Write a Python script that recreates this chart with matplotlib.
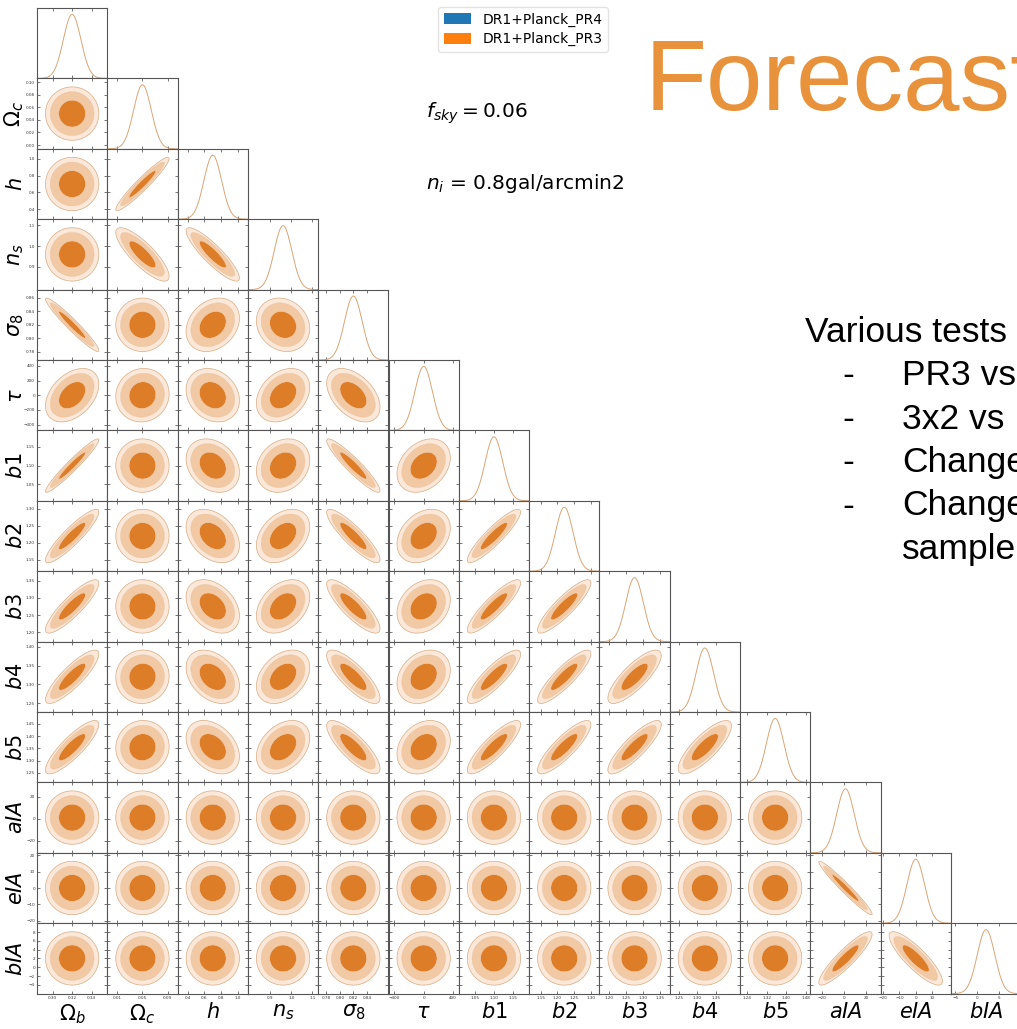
import numpy as np
import matplotlib
matplotlib.use("Agg")
import matplotlib.pyplot as plt
from matplotlib.patches import Patch

# ---- parameters of the Fisher forecast ----
labels = [r"$\Omega_b$", r"$\Omega_c$", r"$h$", r"$n_s$", r"$\sigma_8$", r"$\tau$",
          r"$b1$", r"$b2$", r"$b3$", r"$b4$", r"$b5$", r"$aIA$", r"$eIA$", r"$bIA$"]
means = [0.32, 0.05, 0.70, 0.96, 0.82, 0.0, 1.10, 1.22, 1.275, 1.32, 1.355, 1.0, 0.0, 2.0]
sigmas = [0.009, 0.014, 0.105, 0.042, 0.013, 120.0, 0.0235, 0.026, 0.0255, 0.0235,
          0.036, 8.0, 5.4, 2.0]

# lower triangle of the correlation matrix (row i, columns 0..i-1)
corr_rows = [
    [],
    [0.0],
    [0.0, 0.95],
    [0.0, -0.82, -0.88],
    [-0.96, 0.0, 0.25, -0.15],
    [0.40, 0.05, -0.20, 0.30, -0.45],
    [0.96, 0.0, -0.25, 0.20, -0.93, 0.30],
    [0.90, 0.0, -0.35, 0.35, -0.88, 0.30, 0.90],
    [0.87, 0.0, -0.35, 0.35, -0.83, 0.25, 0.88, 0.88],
    [0.85, 0.03, -0.35, 0.35, -0.80, 0.25, 0.85, 0.87, 0.80],
    [0.85, 0.03, -0.35, 0.35, -0.80, 0.25, 0.85, 0.85, 0.85, 0.80],
    [0.0, 0.0, 0.0, 0.0, 0.0, 0.0, 0.0, 0.0, 0.0, 0.0, 0.0],
    [0.0, 0.0, 0.0, 0.0, 0.0, 0.0, 0.0, 0.0, 0.0, 0.0, 0.0, -0.97],
    [0.0, 0.0, 0.0, 0.0, 0.0, 0.0, 0.0, 0.0, 0.0, 0.0, 0.0, 0.90, -0.85],
]

# tick positions used on the x and y axes of each parameter
xticks = [[0.30, 0.32, 0.34], [0.01, 0.05, 0.09], [0.4, 0.6, 0.8, 1.0], [0.9, 1.0, 1.1],
          [0.78, 0.80, 0.82, 0.84], [-400, 0, 400], [1.05, 1.10, 1.15],
          [1.15, 1.20, 1.25, 1.30], [1.20, 1.25, 1.30, 1.35], [1.25, 1.30, 1.35],
          [1.24, 1.32, 1.40, 1.48], [-20, 0, 20], [-20, -10, 0, 10], [-5, 0, 5]]
yticks = [[], [0.00, 0.02, 0.04, 0.06, 0.08, 0.10], [0.4, 0.6, 0.8, 1.0], [0.9, 1.0, 1.1],
          [0.78, 0.80, 0.82, 0.84, 0.86], [-400, -200, 0, 200, 400], [1.05, 1.10, 1.15],
          [1.15, 1.20, 1.25, 1.30], [1.20, 1.25, 1.30, 1.35], [1.25, 1.30, 1.35, 1.40],
          [1.25, 1.30, 1.35, 1.40, 1.45], [-20, 0, 20], [-20, -10, 0, 10, 20],
          [-4, -2, 0, 2, 4, 6, 8]]

legend_names = ["DR1+Planck_PR4", "DR1+Planck_PR3"]
legend_colors = ["#1f77b4", "#ff7f0e"]

# 68 / 95 / 99 per cent two-parameter confidence levels (delta chi^2)
chi2_levels = [2.30, 6.18, 9.21]
fill_colors = ["#DE7D27", "#F2C9A5", "#FBE8D8"]
edge_color = "#D6AC86"
line_color = "#D9A575"

n = len(labels)
W, H = 1017, 1029
fig = plt.figure(figsize=(W / 100, H / 100), dpi=100)

left0, top0, cw, ch = 37.0, 8.0, 70.3, 70.4
span = 4.0  # axis range in units of sigma


def prange(k):
    return means[k] - span * sigmas[k], means[k] + span * sigmas[k]


def style(ax):
    for s in ax.spines.values():
        s.set_color("#555555")
        s.set_linewidth(0.8)
    ax.tick_params(direction="in", length=2.5, width=0.5, top=True, right=True,
                   labelsize=3, pad=1.5, colors="#444444", labelcolor="#333333")


for i in range(n):
    for j in range(i + 1):
        rect = [(left0 + j * cw) / W, 1 - (top0 + (i + 1) * ch) / H, cw / W, ch / H]
        ax = fig.add_axes(rect)
        style(ax)
        xlo, xhi = prange(j)
        if i == j:
            x = np.linspace(xlo, xhi, 400)
            y = np.exp(-0.5 * ((x - means[j]) / sigmas[j]) ** 2)
            ax.plot(x, y, color=line_color, lw=0.7)
            ax.set_ylim(0, 1.1)
            ax.set_yticks([])
            ax.tick_params(right=False, left=False)
        else:
            ylo, yhi = prange(i)
            r = corr_rows[i][j]
            sx, sy = sigmas[j], sigmas[i]
            cov = np.array([[sx * sx, r * sx * sy], [r * sx * sy, sy * sy]])
            icov = np.linalg.inv(cov)
            gx = np.linspace(xlo, xhi, 420)
            gy = np.linspace(ylo, yhi, 420)
            X, Y = np.meshgrid(gx, gy)
            dx, dy = X - means[j], Y - means[i]
            chi2 = icov[0, 0] * dx * dx + 2 * icov[0, 1] * dx * dy + icov[1, 1] * dy * dy
            ax.contourf(X, Y, chi2, levels=[0] + chi2_levels, colors=fill_colors,
                        antialiased=True)
            ax.contour(X, Y, chi2, levels=[chi2_levels[2]], colors=[edge_color],
                       linewidths=0.5)
            ax.contour(X, Y, chi2, levels=chi2_levels[:2], colors=["#E6B488"],
                       linewidths=0.3)
            ax.set_ylim(ylo, yhi)
            ax.set_yticks(yticks[i])
        ax.set_xlim(xlo, xhi)
        ax.set_xticks(xticks[j])
        if i == n - 1:
            ax.set_xlabel(labels[j], fontsize=15, labelpad=2)
        else:
            ax.set_xticklabels([])
        if j == 0 and i > 0:
            ax.set_ylabel(labels[i], fontsize=15)
            ax.yaxis.set_label_coords(-0.16, 0.5)
        elif i != j:
            ax.set_yticklabels([])

handles = [Patch(facecolor=c, label=l) for c, l in zip(legend_colors, legend_names)]
fig.legend(handles=handles, loc="upper left", bbox_to_anchor=(431 / W, 1 - 0 / H),
           fontsize=10, frameon=True, handlelength=2.0, handleheight=0.8,
           borderpad=0.4, labelspacing=0.4, edgecolor="#dddddd")

fig.text(426 / W, 1 - 118 / H, r"$f_{sky} = 0.06$", fontsize=14.5, ha="left",
         va="baseline")
fig.text(426 / W, 1 - 189 / H, r"$n_i$ = 0.8gal/arcmin2", fontsize=14.5, ha="left",
         va="baseline")

fig.text(645 / W, 1 - 110 / H, "Forecast", fontsize=73, color="#E8933B",
         family="Liberation Sans", ha="left", va="baseline")

fig.text(805 / W, 1 - 342 / H, "Various tests", fontsize=25.5, color="black",
         family="Liberation Sans", ha="left", va="baseline")
items = ["PR3 vs", "3x2 vs", "Change", "Change", "sample"]
dashes = [True, True, True, True, False]
for k, (txt, d) in enumerate(zip(items, dashes)):
    yb = 1 - (385 + k * 43.5) / H
    if d:
        fig.text(842 / W, yb, "-", fontsize=25.5, family="Liberation Sans",
                 ha="left", va="baseline")
    fig.text(902 / W, yb, txt, fontsize=25.5, family="Liberation Sans",
             ha="left", va="baseline")

fig.savefig("out.png", dpi=100)
